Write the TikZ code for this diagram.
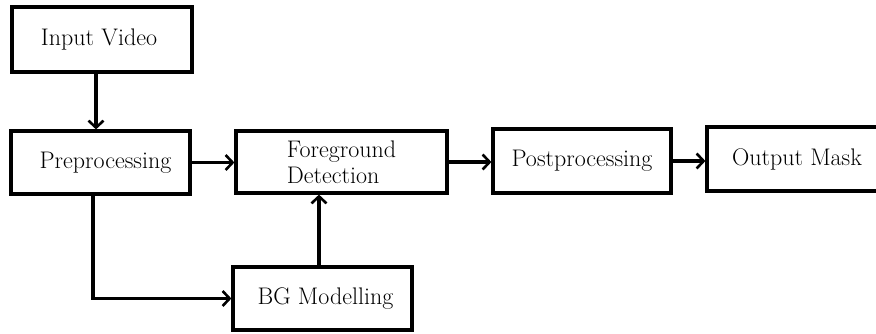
\documentclass[tikz,border=0pt]{standalone}
\usetikzlibrary{arrows.meta}
\begin{document}
\begin{tikzpicture}[x=1pt,y=-1pt,
  blk/.style={draw=black, line width=3.2pt, fill=white, inner sep=0pt,
    font=\fontsize{24}{26}\selectfont, align=left},
  conn/.style={line width=3.2pt, -{Straight Barb[length=7pt,width=15pt,line width=2.6pt]}}]
\useasboundingbox[fill=white] (0,0) rectangle (876,333);
\node[blk, minimum width=180pt, minimum height=65pt] (iv) at (102,39.5) {\hspace*{-6pt}Input Video};
\node[blk, minimum width=179pt, minimum height=63pt] (pre) at (100.5,162.5) {\hspace*{10pt}Preprocessing};
\node[blk, minimum width=211pt, minimum height=62pt] (fg) at (341.5,162) {Foreground\\Detection};
\node[blk, minimum width=178pt, minimum height=64pt] (post) at (582,161) {Postprocessing};
\node[blk, minimum width=180pt, minimum height=64pt] (out) at (797,159) {Output Mask};
\node[blk, minimum width=179pt, minimum height=63pt] (bg) at (322.5,298.5) {\hspace*{6pt}BG Modelling};
\coordinate (c1) at (96,0);
\coordinate (c2) at (93,0);
\coordinate (c3) at (319,0);
\draw[conn] (c1 |- iv.south) -- (c1 |- pre.north);
\draw[conn] (pre.east) -- (pre.east -| fg.west);
\draw[conn] (fg.east) -- (fg.east -| post.west);
\draw[conn] (post.east) -- (post.east -| out.west);
\draw[conn] (c2 |- pre.south) |- (bg.west);
\draw[conn] (c3 |- bg.north) -- (c3 |- fg.south);
\end{tikzpicture}
\end{document}
